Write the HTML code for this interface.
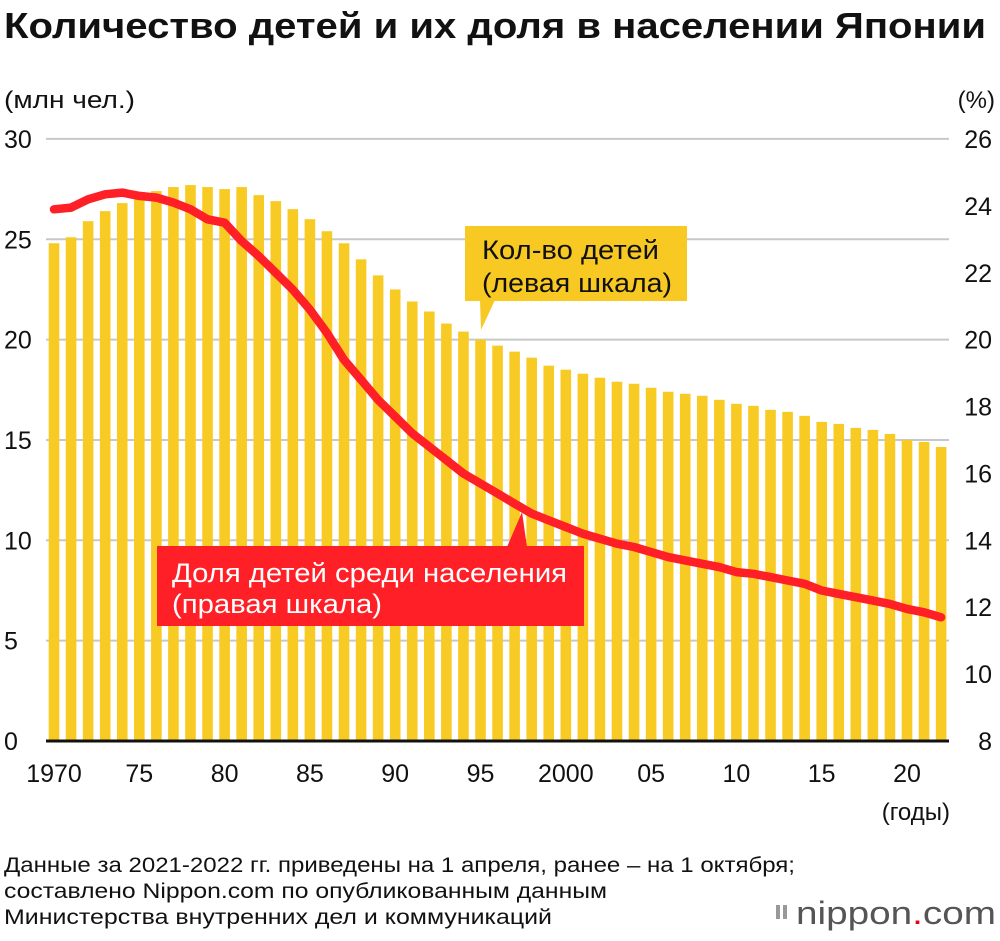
<!DOCTYPE html>
<html><head><meta charset="utf-8"><style>
body{margin:0;background:#fff;width:1000px;height:936px;overflow:hidden;font-family:"Liberation Sans","DejaVu Sans",sans-serif}
svg text{font-family:"Liberation Sans","DejaVu Sans",sans-serif}
</style></head><body>
<svg id="chart" width="1000" height="936" xmlns="http://www.w3.org/2000/svg">
<text x="4" y="38" font-size="36" font-weight="bold" fill="#111" textLength="982" lengthAdjust="spacingAndGlyphs">Количество детей и их доля в населении Японии</text>
<text x="4" y="108" font-size="24" fill="#111" textLength="131" lengthAdjust="spacingAndGlyphs">(млн чел.)</text>
<text x="995" y="108" font-size="24" fill="#111" text-anchor="end">(%)</text>
<g id="grid"></g>
<g id="bars"></g>
<g id="ticks"></g>
<path id="line" fill="none" stroke="#ff1f26" stroke-width="8.5" stroke-linejoin="round" stroke-linecap="round"/>
<g>
<rect x="465" y="226" width="222" height="75" fill="#f8c923"/>
<polygon points="480,300 495,300 481,330" fill="#f8c923"/>
<text x="482" y="259" font-size="27" fill="#111" textLength="177" lengthAdjust="spacingAndGlyphs">Кол-во детей</text>
<text x="482" y="292" font-size="27" fill="#111" textLength="190" lengthAdjust="spacingAndGlyphs">(левая шкала)</text>
</g>
<g>
<rect x="157" y="546" width="427" height="80" fill="#ff1f26"/>
<polygon points="507,547 527,547 522,512" fill="#ff1f26"/>
<text x="172" y="582" font-size="27" fill="#fff" textLength="395" lengthAdjust="spacingAndGlyphs">Доля детей среди населения</text>
<text x="172" y="613" font-size="27" fill="#fff" textLength="210" lengthAdjust="spacingAndGlyphs">(правая шкала)</text>
</g>
<text x="950" y="820" font-size="24" fill="#111" text-anchor="end">(годы)</text>
<text x="4" y="872" font-size="21" fill="#111" textLength="791" lengthAdjust="spacingAndGlyphs">Данные за 2021-2022 гг. приведены на 1 апреля, ранее – на 1 октября;</text>
<text x="4" y="898" font-size="21" fill="#111" textLength="603" lengthAdjust="spacingAndGlyphs">составлено Nippon.com по опубликованным данным</text>
<text x="4" y="924" font-size="21" fill="#111" textLength="548" lengthAdjust="spacingAndGlyphs">Министерства внутренних дел и коммуникаций</text>
<g>
<rect x="776" y="905" width="4" height="14" fill="#999"/><rect x="783" y="905" width="4" height="14" fill="#999"/>
<text x="996" y="924" font-size="32" fill="#555" text-anchor="end" textLength="200" lengthAdjust="spacingAndGlyphs">nippon<tspan fill="#e60012">.</tspan>com</text>
</g>
</svg>
<script>
const years=[1970,1971,1972,1973,1974,1975,1976,1977,1978,1979,1980,1981,1982,1983,1984,1985,1986,1987,1988,1989,1990,1991,1992,1993,1994,1995,1996,1997,1998,1999,2000,2001,2002,2003,2004,2005,2006,2007,2008,2009,2010,2011,2012,2013,2014,2015,2016,2017,2018,2019,2020,2021,2022];
const children=[24.8,25.1,25.9,26.4,26.8,27.2,27.4,27.6,27.7,27.6,27.5,27.6,27.2,26.9,26.5,26.0,25.4,24.8,24.0,23.2,22.5,21.9,21.4,20.8,20.4,20.0,19.7,19.4,19.1,18.7,18.5,18.3,18.1,17.9,17.8,17.6,17.4,17.3,17.2,17.0,16.8,16.7,16.5,16.4,16.2,15.9,15.8,15.6,15.5,15.3,15.0,14.9,14.65];
const share=[23.9,23.95,24.2,24.35,24.4,24.3,24.25,24.1,23.9,23.6,23.5,22.95,22.5,22.0,21.5,20.9,20.2,19.4,18.8,18.2,17.7,17.2,16.8,16.4,16.0,15.7,15.4,15.1,14.8,14.6,14.4,14.2,14.05,13.9,13.8,13.65,13.5,13.4,13.3,13.2,13.05,13.0,12.9,12.8,12.7,12.5,12.4,12.3,12.2,12.1,11.95,11.85,11.7];
const leftTicks=[0,5,10,15,20,25,30];
const rightTicks=[8,10,12,14,16,18,20,22,24,26];
const xLabels=[[1970,"1970"],[1975,"75"],[1980,"80"],[1985,"85"],[1990,"90"],[1995,"95"],[2000,"2000"],[2005,"05"],[2010,"10"],[2015,"15"],[2020,"20"]];
const NS="http://www.w3.org/2000/svg";
const x=yr=>54+(yr-1970)*17.06;
const yL=v=>741-v*20.07;
const yR=p=>741-(p-8)*33.44;
function mk(t,a,p){const e=document.createElementNS(NS,t);for(const k in a)e.setAttribute(k,a[k]);p.appendChild(e);return e;}
const grid=document.getElementById('grid'),bars=document.getElementById('bars'),ticks=document.getElementById('ticks');
leftTicks.forEach(v=>{
 if(v>0){const g=mk('line',{x1:46,x2:949,y1:yL(v),y2:yL(v),stroke:'#c8c8c8','stroke-width':2},grid);
 
 }
 const t=mk('text',{x:4,y:yL(v)+9,'font-size':25,fill:'#111'},ticks);t.textContent=v;
 
 
});
rightTicks.forEach(p=>{
 const t=mk('text',{x:992,y:yR(p)+9,'font-size':25,fill:'#111','text-anchor':'end'},ticks);t.textContent=p;
 
 
});
years.forEach((yr,i)=>{
 const r=mk('rect',{x:x(yr)-5.3,y:yL(children[i]),width:10.6,height:741-yL(children[i]),fill:'#f8cb24'},bars);
 
 
});
const base=mk('line',{x1:46,x2:949,y1:741,y2:741,stroke:'#111','stroke-width':3},ticks);


xLabels.forEach(([yr,l])=>{
 const t=mk('text',{x:x(yr),y:782,'font-size':25,fill:'#111','text-anchor':'middle'},ticks);t.textContent=l;
 
 
});
document.getElementById('line').setAttribute('d',years.map((yr,i)=>(i?'L':'M')+x(yr).toFixed(1)+','+yR(share[i]).toFixed(1)).join(''));
</script>
</body></html>
